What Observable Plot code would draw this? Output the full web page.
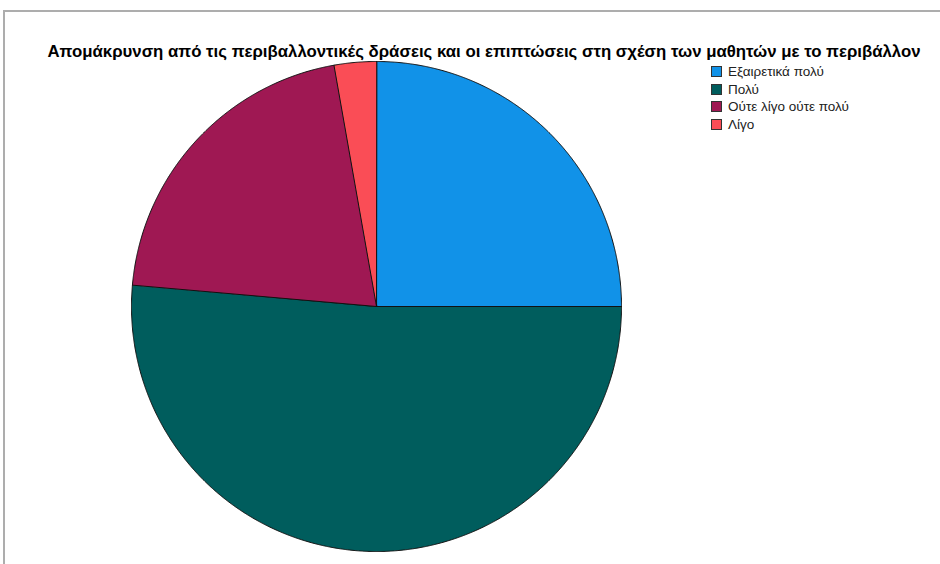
<!DOCTYPE html>
<html><head><meta charset="utf-8">
<script src="https://cdn.jsdelivr.net/npm/d3@7"></script>
<script src="https://cdn.jsdelivr.net/npm/@observablehq/plot@0.6"></script>
<style>
body{margin:0;background:#fff;font-family:"Liberation Sans",Arial,sans-serif}
#wrap{position:relative;width:940px;height:564px;overflow:hidden}
#frame{position:absolute;left:3px;top:10px;width:980px;height:620px;border-top:2px solid #adadad;border-left:2px solid #adadad}
#title{position:absolute;left:0;width:968px;top:42px;text-align:center;font-weight:bold;font-size:16.8px;line-height:19px;color:#000;white-space:nowrap}
#chart{position:absolute;left:126px;top:56px}
#legend{position:absolute;left:711px;top:63px;font-size:13.5px;color:#222}
.item{display:flex;align-items:center;height:17.5px;white-space:nowrap}
.sw{width:9px;height:9px;border:1px solid #333;margin-right:6px;box-sizing:content-box}
</style>
</head><body>
<div id="wrap">
<div id="frame"></div>
<div id="title"></div>
<div id="chart"></div>
<div id="legend"></div>
</div>
<script>
const title = "Απομάκρυνση από τις περιβαλλοντικές δράσεις και οι επιπτώσεις στη σχέση των μαθητών με το περιβάλλον";
const categories = ["Εξαιρετικά πολύ", "Πολύ", "Ούτε λίγο ούτε πολύ", "Λίγο"];
const counts = [18, 37, 15, 2];
const colors = ["#1192e8", "#005d5d", "#9f1853", "#fa4d56"];

document.getElementById("title").textContent = title;

const data = categories.map((c, i) => ({category: c, count: counts[i]}));
const arcs = d3.pie().sort(null).value(d => d.count)(data);
const pts = [];
for (const a of arcs) {
  const c = a.data.category;
  pts.push({category: c, x: 0, y: 0});
  const n = Math.max(2, Math.ceil((a.endAngle - a.startAngle) / (Math.PI / 720)));
  for (let k = 0; k <= n; k++) {
    const t = a.startAngle + (a.endAngle - a.startAngle) * k / n;
    pts.push({category: c, x: Math.sin(t), y: Math.cos(t)});
  }
}
const d = 250 / 245;
const plot = Plot.plot({
  width: 500, height: 500, margin: 0,
  x: {domain: [-d, d], axis: null},
  y: {domain: [-d, d], axis: null},
  color: {type: "ordinal", domain: categories, range: colors},
  marks: [
    Plot.line(pts, {x: "x", y: "y", z: "category", fill: "category", stroke: "#111", strokeWidth: 1, curve: "linear-closed", strokeLinejoin: "round"})
  ]
});
document.getElementById("chart").appendChild(plot);

const leg = document.getElementById("legend");
categories.forEach((c, i) => {
  const it = document.createElement("div"); it.className = "item";
  const sw = document.createElement("div"); sw.className = "sw"; sw.style.background = colors[i];
  const tx = document.createElement("span"); tx.textContent = c;
  it.appendChild(sw); it.appendChild(tx); leg.appendChild(it);
});
</script>
</body></html>
